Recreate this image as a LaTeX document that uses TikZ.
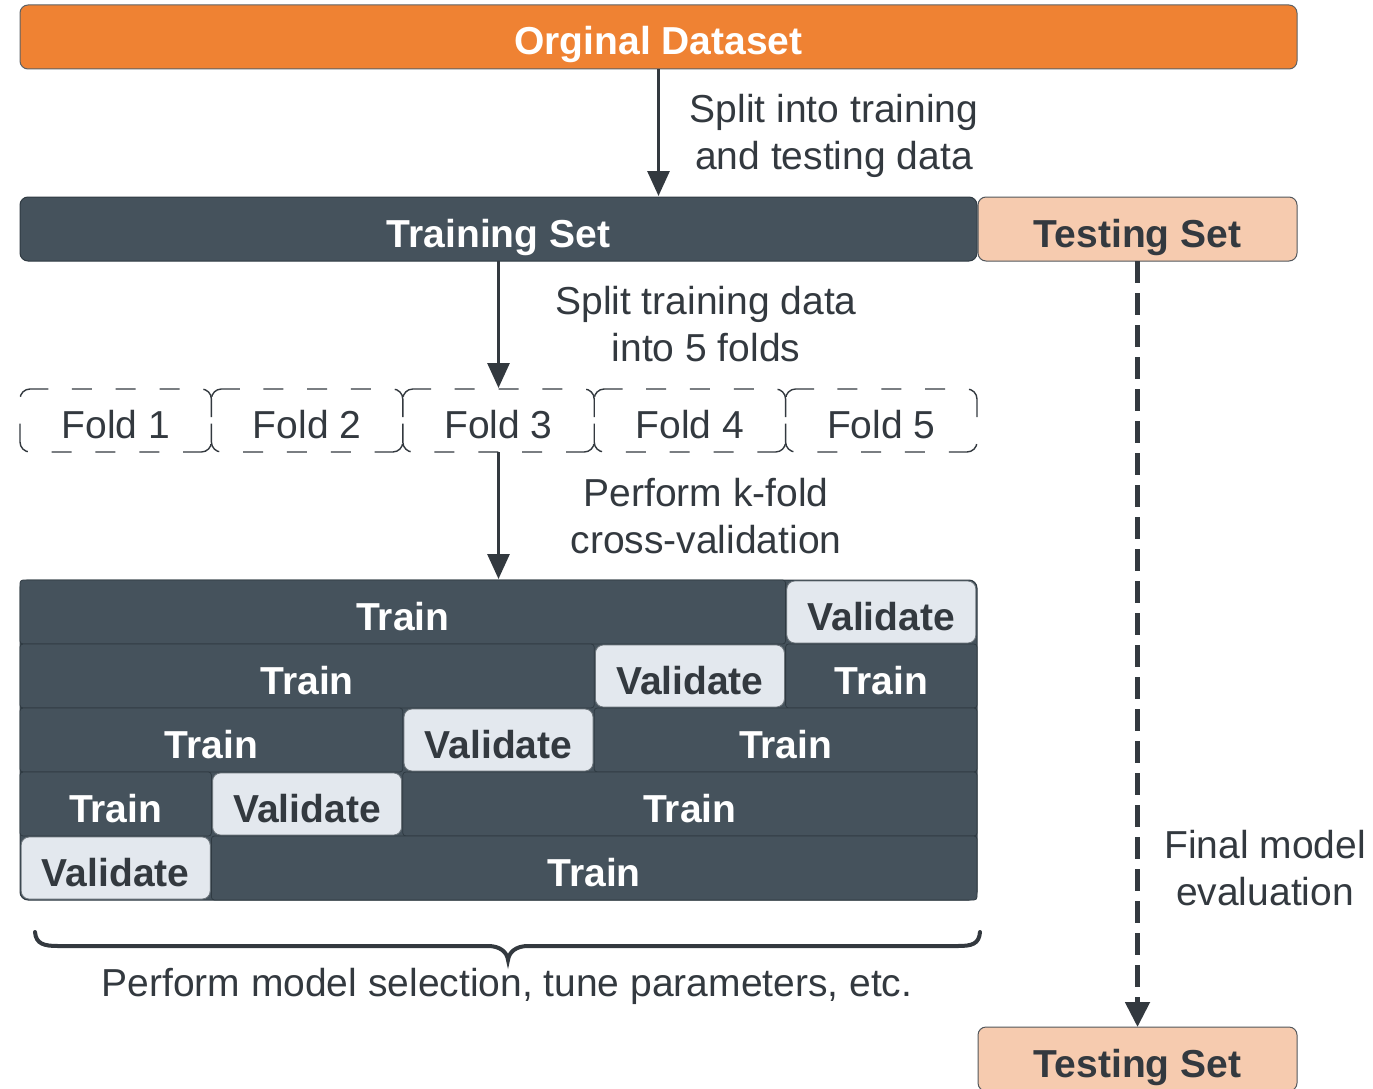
\documentclass[tikz,border=0pt]{standalone}
\usepackage{fontspec}
\setmainfont{Liberation Sans}
\usetikzlibrary{arrows.meta}
\definecolor{orangeC}{HTML}{EF8233}
\definecolor{slateC}{HTML}{45525C}
\definecolor{slateEdge}{HTML}{2F3A42}
\definecolor{peachC}{HTML}{F6CBAF}
\definecolor{valC}{HTML}{E3E8EE}
\definecolor{inkC}{HTML}{33393F}
\tikzset{
  bigtext/.style={font=\fontsize{39}{47}\selectfont\bfseries, text height=36pt, text depth=0pt},
  bar/.style={inner sep=0pt, outer sep=0pt, minimum height=64pt, rounded corners=8pt, line width=1pt, bigtext},
  origbox/.style={bar, fill=orangeC, draw=inkC!80, text=white},
  trainbox/.style={bar, fill=slateC, draw=slateEdge, text=white},
  testbox/.style={bar, fill=peachC, draw=inkC!85, text=inkC},
  foldbox/.style={inner sep=0pt, outer sep=0pt, minimum height=63pt, minimum width=191.4pt,
    font=\fontsize{39}{47}\selectfont, text height=36pt, text depth=0pt, text=inkC},
  foldline/.style={draw=inkC, line width=1.4pt, rounded corners=10pt,
    dash pattern=on 20pt off 23.85pt on 20pt off 23.85pt on 20pt off 23.85pt on 31.71pt off 27pt on 31.71pt off 23.85pt},
  cell/.style={inner sep=0pt, outer sep=0pt, minimum height=64pt, rounded corners=3pt,
    fill=slateC, draw=slateEdge, line width=0.8pt, text=white, bigtext},
  valbox/.style={inner sep=0pt, outer sep=0pt, minimum height=62pt, minimum width=189pt, rounded corners=8pt,
    fill=valC, draw=slateEdge!70, line width=0.8pt, text=inkC, bigtext},
  lbl/.style={align=center, text=inkC, font=\fontsize{39}{47}\selectfont, inner sep=0pt},
  arr/.style={line width=3pt, draw=inkC, -{Triangle[length=25pt,width=22pt]}, shorten >=1pt},
  darr/.style={line width=5pt, draw=inkC, dash pattern=on 22pt off 10pt, -{Triangle[length=25pt,width=24pt]}},
}
\newcommand{\foldborder}[1]{%
  \draw[foldline] ([xshift=41.85pt]#1.north west) -- (#1.north east) -- (#1.south east)
    -- (#1.south west) -- (#1.north west) -- cycle;}
\begin{document}
\begin{tikzpicture}[x=1pt,y=-1pt]
\useasboundingbox (0,0) rectangle (1373,1089);
% top bars
\node[origbox, minimum width=1277pt] (orig) at (658.5,37) {Orginal Dataset};
\node[trainbox, minimum width=957pt] (trainset) at (498.5,229) {Training Set};
\node[testbox, minimum width=319pt] (testtop) at (1137.5,229) {Testing Set};
% folds
\node[foldbox] (f1) at (115.7,420.5) {Fold 1};
\node[foldbox] (f2) at (307.1,420.5) {Fold 2};
\node[foldbox] (f3) at (498.5,420.5) {Fold 3};
\node[foldbox] (f4) at (689.9,420.5) {Fold 4};
\node[foldbox] (f5) at (881.3,420.5) {Fold 5};
\foldborder{f1}\foldborder{f2}\foldborder{f3}\foldborder{f4}\foldborder{f5}
% grid background
\node[inner sep=0pt, outer sep=0pt, minimum width=957pt, minimum height=320pt, rounded corners=8pt,
  fill=slateC, draw=slateEdge, line width=1pt] (grid) at (498.5,740) {};
% row 1
\node[cell, minimum width=765.6pt] (r1a) at (402.8,612) {Train};
\node[valbox] (r1v) at (881.3,612) {Validate};
% row 2
\node[cell, minimum width=574.2pt] (r2a) at (307.1,676) {Train};
\node[valbox] (r2v) at (689.9,676) {Validate};
\node[cell, minimum width=191.4pt] (r2b) at (881.3,676) {Train};
% row 3
\node[cell, minimum width=382.8pt] (r3a) at (211.4,740) {Train};
\node[valbox] (r3v) at (498.5,740) {Validate};
\node[cell, minimum width=382.8pt] (r3b) at (785.6,740) {Train};
% row 4
\node[cell, minimum width=191.4pt] (r4a) at (115.7,804) {Train};
\node[valbox] (r4v) at (307.1,804) {Validate};
\node[cell, minimum width=574.2pt] (r4b) at (689.9,804) {Train};
% row 5
\node[valbox] (r5v) at (115.7,868) {Validate};
\node[cell, minimum width=765.6pt] (r5b) at (594.2,868) {Train};
% bottom testing set
\node[testbox, minimum width=319pt] (testbot) at (1137.5,1059) {Testing Set};
% arrows
\draw[arr] (orig.south) -- (orig.south |- trainset.north);
\draw[arr] (trainset.south) -- (f3.north);
\draw[arr] (f3.south) -- (grid.north);
\draw[darr] (testtop.south) -- (testbot.north);
% labels
\node[lbl] (l1) at (834,136) {Split into training\\and testing data};
\node[lbl] (l2) at (706,324) {Split training data\\into 5 folds};
\node[lbl] (l3) at (706,516) {Perform k-fold\\cross-validation};
\node[lbl] (l4) at (1265,868) {Final model\\evaluation};
% brace
\draw[line width=4pt, draw=inkC, line cap=round]
  (35,932) .. controls (36,944) and (44,946) .. (58,946) -- (488,946)
  .. controls (500,946) and (507,952) .. (508,960)
  .. controls (509,952) and (516,946) .. (528,946) -- (958,946)
  .. controls (972,946) and (979,944) .. (980,932);
\node[lbl] (l5) at (507,986) {Perform model selection, tune parameters, etc.};
\end{tikzpicture}
\end{document}
